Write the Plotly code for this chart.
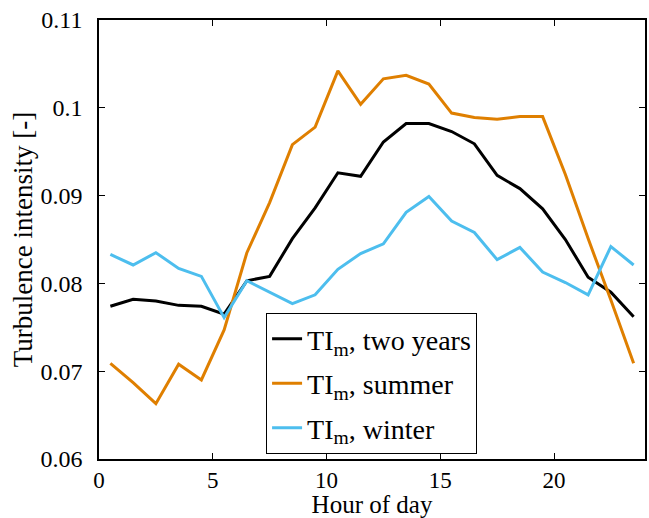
import plotly.graph_objects as go

# Hour of day (bin centres)
hours = [h + 0.5 for h in range(24)]

# Mean turbulence intensity per hour
ti_two_years = [0.0774, 0.0782, 0.0780, 0.0775, 0.0774, 0.0765, 0.0803, 0.0808,
                0.0851, 0.0886, 0.0926, 0.0922, 0.0961, 0.0982, 0.0982, 0.0973,
                0.0959, 0.0923, 0.0908, 0.0885, 0.0850, 0.0807, 0.0790, 0.0762]
ti_summer = [0.0709, 0.0687, 0.0663, 0.0708, 0.0690, 0.0747, 0.0835, 0.0892,
             0.0958, 0.0978, 0.1042, 0.1004, 0.1033, 0.1037, 0.1027, 0.0994,
             0.0989, 0.0987, 0.0990, 0.0990, 0.0924, 0.0851, 0.0781, 0.0709]
ti_winter = [0.0833, 0.0821, 0.0835, 0.0817, 0.0808, 0.0761, 0.0803, 0.0790,
             0.0777, 0.0787, 0.0816, 0.0834, 0.0845, 0.0881, 0.0899, 0.0871,
             0.0858, 0.0827, 0.0841, 0.0813, 0.0801, 0.0787, 0.0842, 0.0821]

series_names = ["TI<sub>m</sub>, two years", "TI<sub>m</sub>, summer", "TI<sub>m</sub>, winter"]
series_colors = ["#000000", "#DF7F00", "#4DBEEE"]

x_ticks = [0, 5, 10, 15, 20]
y_ticks = [0.06, 0.07, 0.08, 0.09, 0.10, 0.11]
y_tick_text = ["0.06", "0.07", "0.08", "0.09", "0.1", "0.11"]

FONT = "Liberation Serif"

fig = go.Figure()
for i, (name, ys, col) in enumerate(zip(series_names, [ti_two_years, ti_summer, ti_winter], series_colors)):
    fig.add_trace(go.Scatter(x=hours, y=ys, mode="lines", name=name,
                             legendgroup=f"g{i}",
                             line=dict(color=col, width=3)))

axis_common = dict(
    showline=True, linecolor="black", linewidth=1.5, mirror="ticks",
    ticks="inside", ticklen=6, tickwidth=1, tickcolor="black",
    showgrid=False, zeroline=False,
)

fig.update_xaxes(range=[0, 24], tickvals=x_ticks,
                 tickfont=dict(family=FONT, size=23, color="black"),
                 title=dict(text="Hour of day", font=dict(family=FONT, size=25, color="black"), standoff=5),
                 **axis_common)
fig.update_yaxes(range=[0.06, 0.11], tickvals=y_ticks, ticktext=y_tick_text,
                 ticklabelstandoff=10,
                 tickfont=dict(family=FONT, size=24, color="black"),
                 title=dict(text="Turbulence intensity [-]", font=dict(family=FONT, size=27, color="black"), standoff=0),
                 **axis_common)

fig.update_layout(
    width=649, height=518,
    margin=dict(l=99, r=2, t=20, b=57),
    plot_bgcolor="white", paper_bgcolor="white",
    font=dict(family=FONT, color="black", size=22),
    legend=dict(x=0.306, y=0.011, xanchor="left", yanchor="bottom",
                bgcolor="white", bordercolor="black", borderwidth=1,
                font=dict(family=FONT, size=28, color="black"),
                traceorder="grouped", tracegroupgap=5,
                itemwidth=30),
)

fig.write_html("out.html")
